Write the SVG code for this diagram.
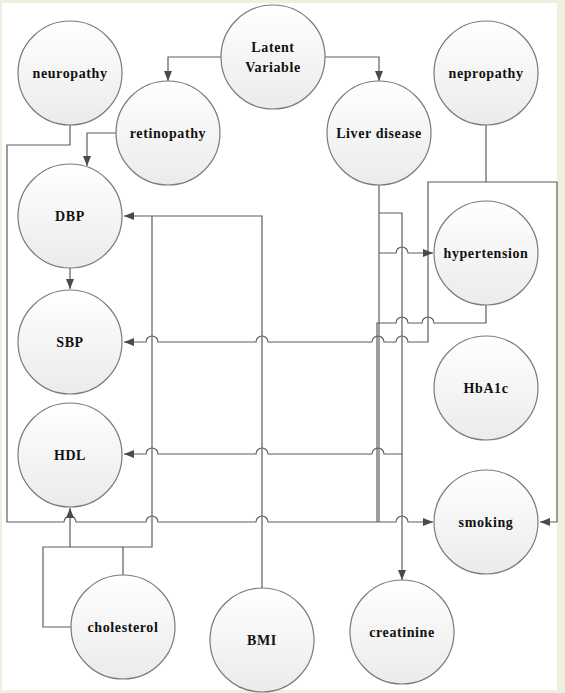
<svg xmlns="http://www.w3.org/2000/svg" width="565" height="693" viewBox="0 0 565 693">
<defs>
<linearGradient id="g" x1="0" y1="0" x2="0" y2="1">
<stop offset="0" stop-color="#ffffff"/>
<stop offset="0.45" stop-color="#f6f6f6"/>
<stop offset="1" stop-color="#ebebeb"/>
</linearGradient>
<marker id="a" markerWidth="10" markerHeight="8" refX="10" refY="4" orient="auto" markerUnits="userSpaceOnUse">
<path d="M0,0 L10,4 L0,8 z" fill="#4a4a4a"/>
</marker>
</defs>
<style>
.n circle{fill:url(#g);stroke:#7a7a7a;stroke-width:1.2}
.n .sh{fill:#d8d8d8;stroke:none}
.n text{font-family:"Liberation Serif","Times New Roman",serif;font-weight:bold;font-size:14px;letter-spacing:0.6px;text-anchor:middle;fill:#111}
.c path{fill:none;stroke:#5e5e5e;stroke-width:1.2}
.c .ar{marker-end:url(#a)}
</style>
<rect x="0" y="0" width="565" height="693" fill="#edf0df"/>
<rect x="2" y="3" width="555" height="687" fill="#ffffff"/>
<g class="c" id="connectors">
<path class="ar" d="M221,57 H168 V81"/>
<path class="ar" d="M325,57 H379 V81"/>
<path class="ar" d="M116,133 H87 V166"/>
<path class="ar" d="M70,268 V289"/>
<path class="ar" d="M70,125 V145 H7 V522 H64 A6,6 0 0 1 76,522 H146 A6,6 0 0 1 158,522 H256 A6,6 0 0 1 268,522 H396 A6,6 0 0 1 408,522 H433"/>
<path class="ar" d="M486,125 V182 H557 V522 H540"/>
<path class="ar" d="M486,182 H428 V342 H408 A6,6 0 0 0 396,342 H384 A6,6 0 0 0 372,342 H268 A6,6 0 0 0 256,342 H158 A6,6 0 0 0 146,342 H124"/>
<path d="M486,305 V323 H434 A6,6 0 0 0 422,323 H408 A6,6 0 0 0 396,323 H377 V522"/>
<path d="M379,185 V522"/>
<path class="ar" d="M379,213 H402 V580"/>
<path class="ar" d="M379,253 H396 A6,6 0 0 1 408,253 H433"/>
<path class="ar" d="M402,454 H384 A6,6 0 0 0 372,454 H268 A6,6 0 0 0 256,454 H158 A6,6 0 0 0 146,454 H124"/>
<path class="ar" d="M262,588 V216 H124"/>
<path d="M123,575 V547 H152 V216"/>
<path class="ar" d="M123,547 H70 V508"/>
<path d="M70,547 H43 V627 H71"/>
</g>
<g class="n" id="neuropathy"><circle cx="70" cy="73" r="52"/><text x="70" y="78">neuropathy</text></g>
<g class="n" id="latent"><circle cx="273" cy="57" r="52"/><text x="273" y="52">Latent</text><text x="273" y="72">Variable</text></g>
<g class="n" id="nepropathy"><circle cx="486" cy="73" r="52"/><text x="486" y="78">nepropathy</text></g>
<g class="n" id="retinopathy"><circle cx="168" cy="133" r="52"/><text x="168" y="138">retinopathy</text></g>
<g class="n" id="liver"><circle cx="379" cy="133" r="52"/><text x="379" y="138">Liver disease</text></g>
<g class="n" id="dbp"><circle cx="70" cy="216" r="52"/><text x="70" y="221">DBP</text></g>
<g class="n" id="hypertension"><circle cx="486" cy="253" r="52"/><text x="486" y="258">hypertension</text></g>
<g class="n" id="sbp"><circle cx="70" cy="342" r="52"/><text x="70" y="347">SBP</text></g>
<g class="n" id="hba1c"><circle cx="486" cy="388" r="52"/><text x="486" y="393">HbA1c</text></g>
<g class="n" id="hdl"><circle cx="70" cy="455" r="52"/><text x="70" y="460">HDL</text></g>
<g class="n" id="smoking"><circle cx="486" cy="522" r="52"/><text x="486" y="527">smoking</text></g>
<g class="n" id="cholesterol"><circle cx="123" cy="627" r="52"/><text x="123" y="632">cholesterol</text></g>
<g class="n" id="bmi"><circle cx="262" cy="640" r="52"/><text x="262" y="645">BMI</text></g>
<g class="n" id="creatinine"><circle cx="402" cy="632" r="52"/><text x="402" y="637">creatinine</text></g>
</svg>
